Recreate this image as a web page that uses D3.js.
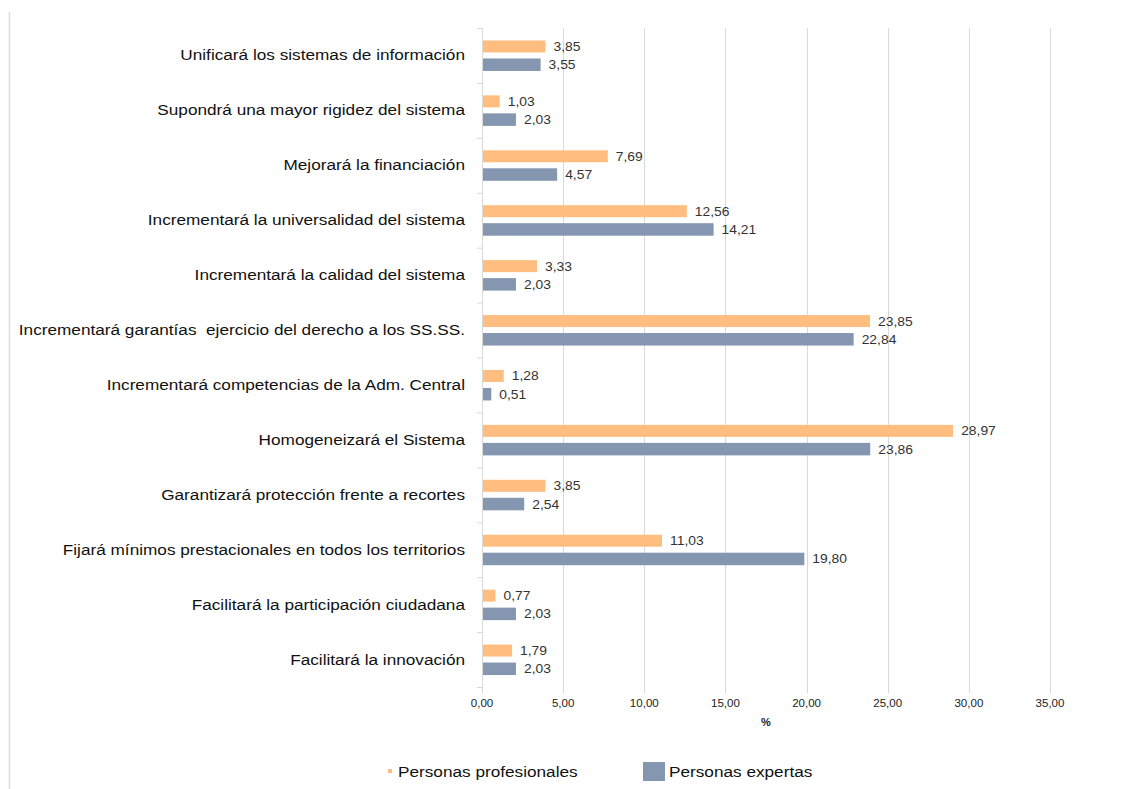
<!DOCTYPE html>
<html><head><meta charset="utf-8">
<script src="https://cdn.jsdelivr.net/npm/d3@7"></script>
<style>
body{margin:0;background:#fff;}
svg{display:block;font-family:"Liberation Sans",Arial,sans-serif;}
</style></head>
<body>
<svg id="c" width="1129" height="789"></svg>
<script>
const categories = [
 "Unificará los sistemas de información",
 "Supondrá una mayor rigidez del sistema",
 "Mejorará la financiación",
 "Incrementará la universalidad del sistema",
 "Incrementará la calidad del sistema",
 "Incrementará garantías  ejercicio del derecho a los SS.SS.",
 "Incrementará competencias de la Adm. Central",
 "Homogeneizará el Sistema",
 "Garantizará protección frente a recortes",
 "Fijará mínimos prestacionales en todos los territorios",
 "Facilitará la participación ciudadana",
 "Facilitará la innovación"
];
const profesionales = [3.85,1.03,7.69,12.56,3.33,23.85,1.28,28.97,3.85,11.03,0.77,1.79];
const expertas = [3.55,2.03,4.57,14.21,2.03,22.84,0.51,23.86,2.54,19.80,2.03,2.03];
const xTicks = [0,5,10,15,20,25,30,35];
const seriesNames = ["Personas profesionales","Personas expertas"];
const colors = ["#FFBE7F","#8496B0"];

const svg = d3.select("#c");
const fmt = v => v.toFixed(2).replace(".", ",");
const x = d3.scaleLinear().domain([0,35]).range([482,1050]);
const y = d3.scaleBand().domain(categories).range([28,687]);
const SX = 1.11;
const tf = (px,py,s=SX) => `translate(${px},${py}) scale(${s},1)`;

// left border
svg.append("line").attr("x1",9.5).attr("x2",9.5).attr("y1",12).attr("y2",789)
  .attr("stroke","#dcdcdc").attr("stroke-width",1.5);

// gridlines
svg.append("g").selectAll("line").data(xTicks).join("line")
  .attr("x1",d=>Math.round(x(d))+0.5).attr("x2",d=>Math.round(x(d))+0.5)
  .attr("y1",28).attr("y2",693).attr("stroke","#d9d9d9").attr("stroke-width",1);

// category ticks on left axis
const bounds = categories.map(c=>y(c)).concat([y.range()[1]]);
svg.append("g").selectAll("line").data(bounds).join("line")
  .attr("x1",477).attr("x2",482).attr("y1",d=>d+0.5).attr("y2",d=>d+0.5)
  .attr("stroke","#d9d9d9");

// x tick labels
svg.append("g").selectAll("text").data(xTicks).join("text")
  .attr("transform",d=>tf(x(d),707,1.05)).attr("text-anchor","middle")
  .attr("font-size",11).attr("fill","#222").text(d=>fmt(d));
svg.append("text").attr("x",x(17.5)).attr("y",726).attr("text-anchor","middle")
  .attr("font-size",11).attr("font-weight","bold").attr("fill","#222").text("%");

// category labels
svg.append("g").selectAll("text").data(categories).join("text")
  .attr("transform",d=>tf(465,y(d)+y.bandwidth()/2+5)).attr("text-anchor","end")
  .attr("font-size",15.5).attr("fill","#111").style("white-space","pre").text(d=>d);

const series = [profesionales, expertas];
const offs = [-15, 3];
const hs = [12, 12.5];
series.forEach((vals,si)=>{
  const g = svg.append("g");
  g.selectAll("rect").data(vals).join("rect")
    .attr("x",x(0)+1).attr("y",(d,i)=>y(categories[i])+y.bandwidth()/2+offs[si])
    .attr("width",d=>x(d)-x(0)).attr("height",hs[si]).attr("fill",colors[si]);
  g.selectAll("text").data(vals).join("text")
    .attr("transform",(d,i)=>tf(x(d)+9,y(categories[i])+y.bandwidth()/2+offs[si]+hs[si]/2+4.5))
    .attr("font-size",12.5).attr("fill","#333").text(d=>fmt(d));
});

// legend
svg.append("rect").attr("x",388).attr("y",769).attr("width",4).attr("height",4).attr("fill",colors[0]);
svg.append("text").attr("transform",tf(398,777)).attr("font-size",15.5).attr("fill","#111").text(seriesNames[0]);
svg.append("rect").attr("x",643).attr("y",762).attr("width",22).attr("height",19).attr("fill",colors[1]);
svg.append("text").attr("transform",tf(669,777)).attr("font-size",15.5).attr("fill","#111").text(seriesNames[1]);
</script>
</body></html>
